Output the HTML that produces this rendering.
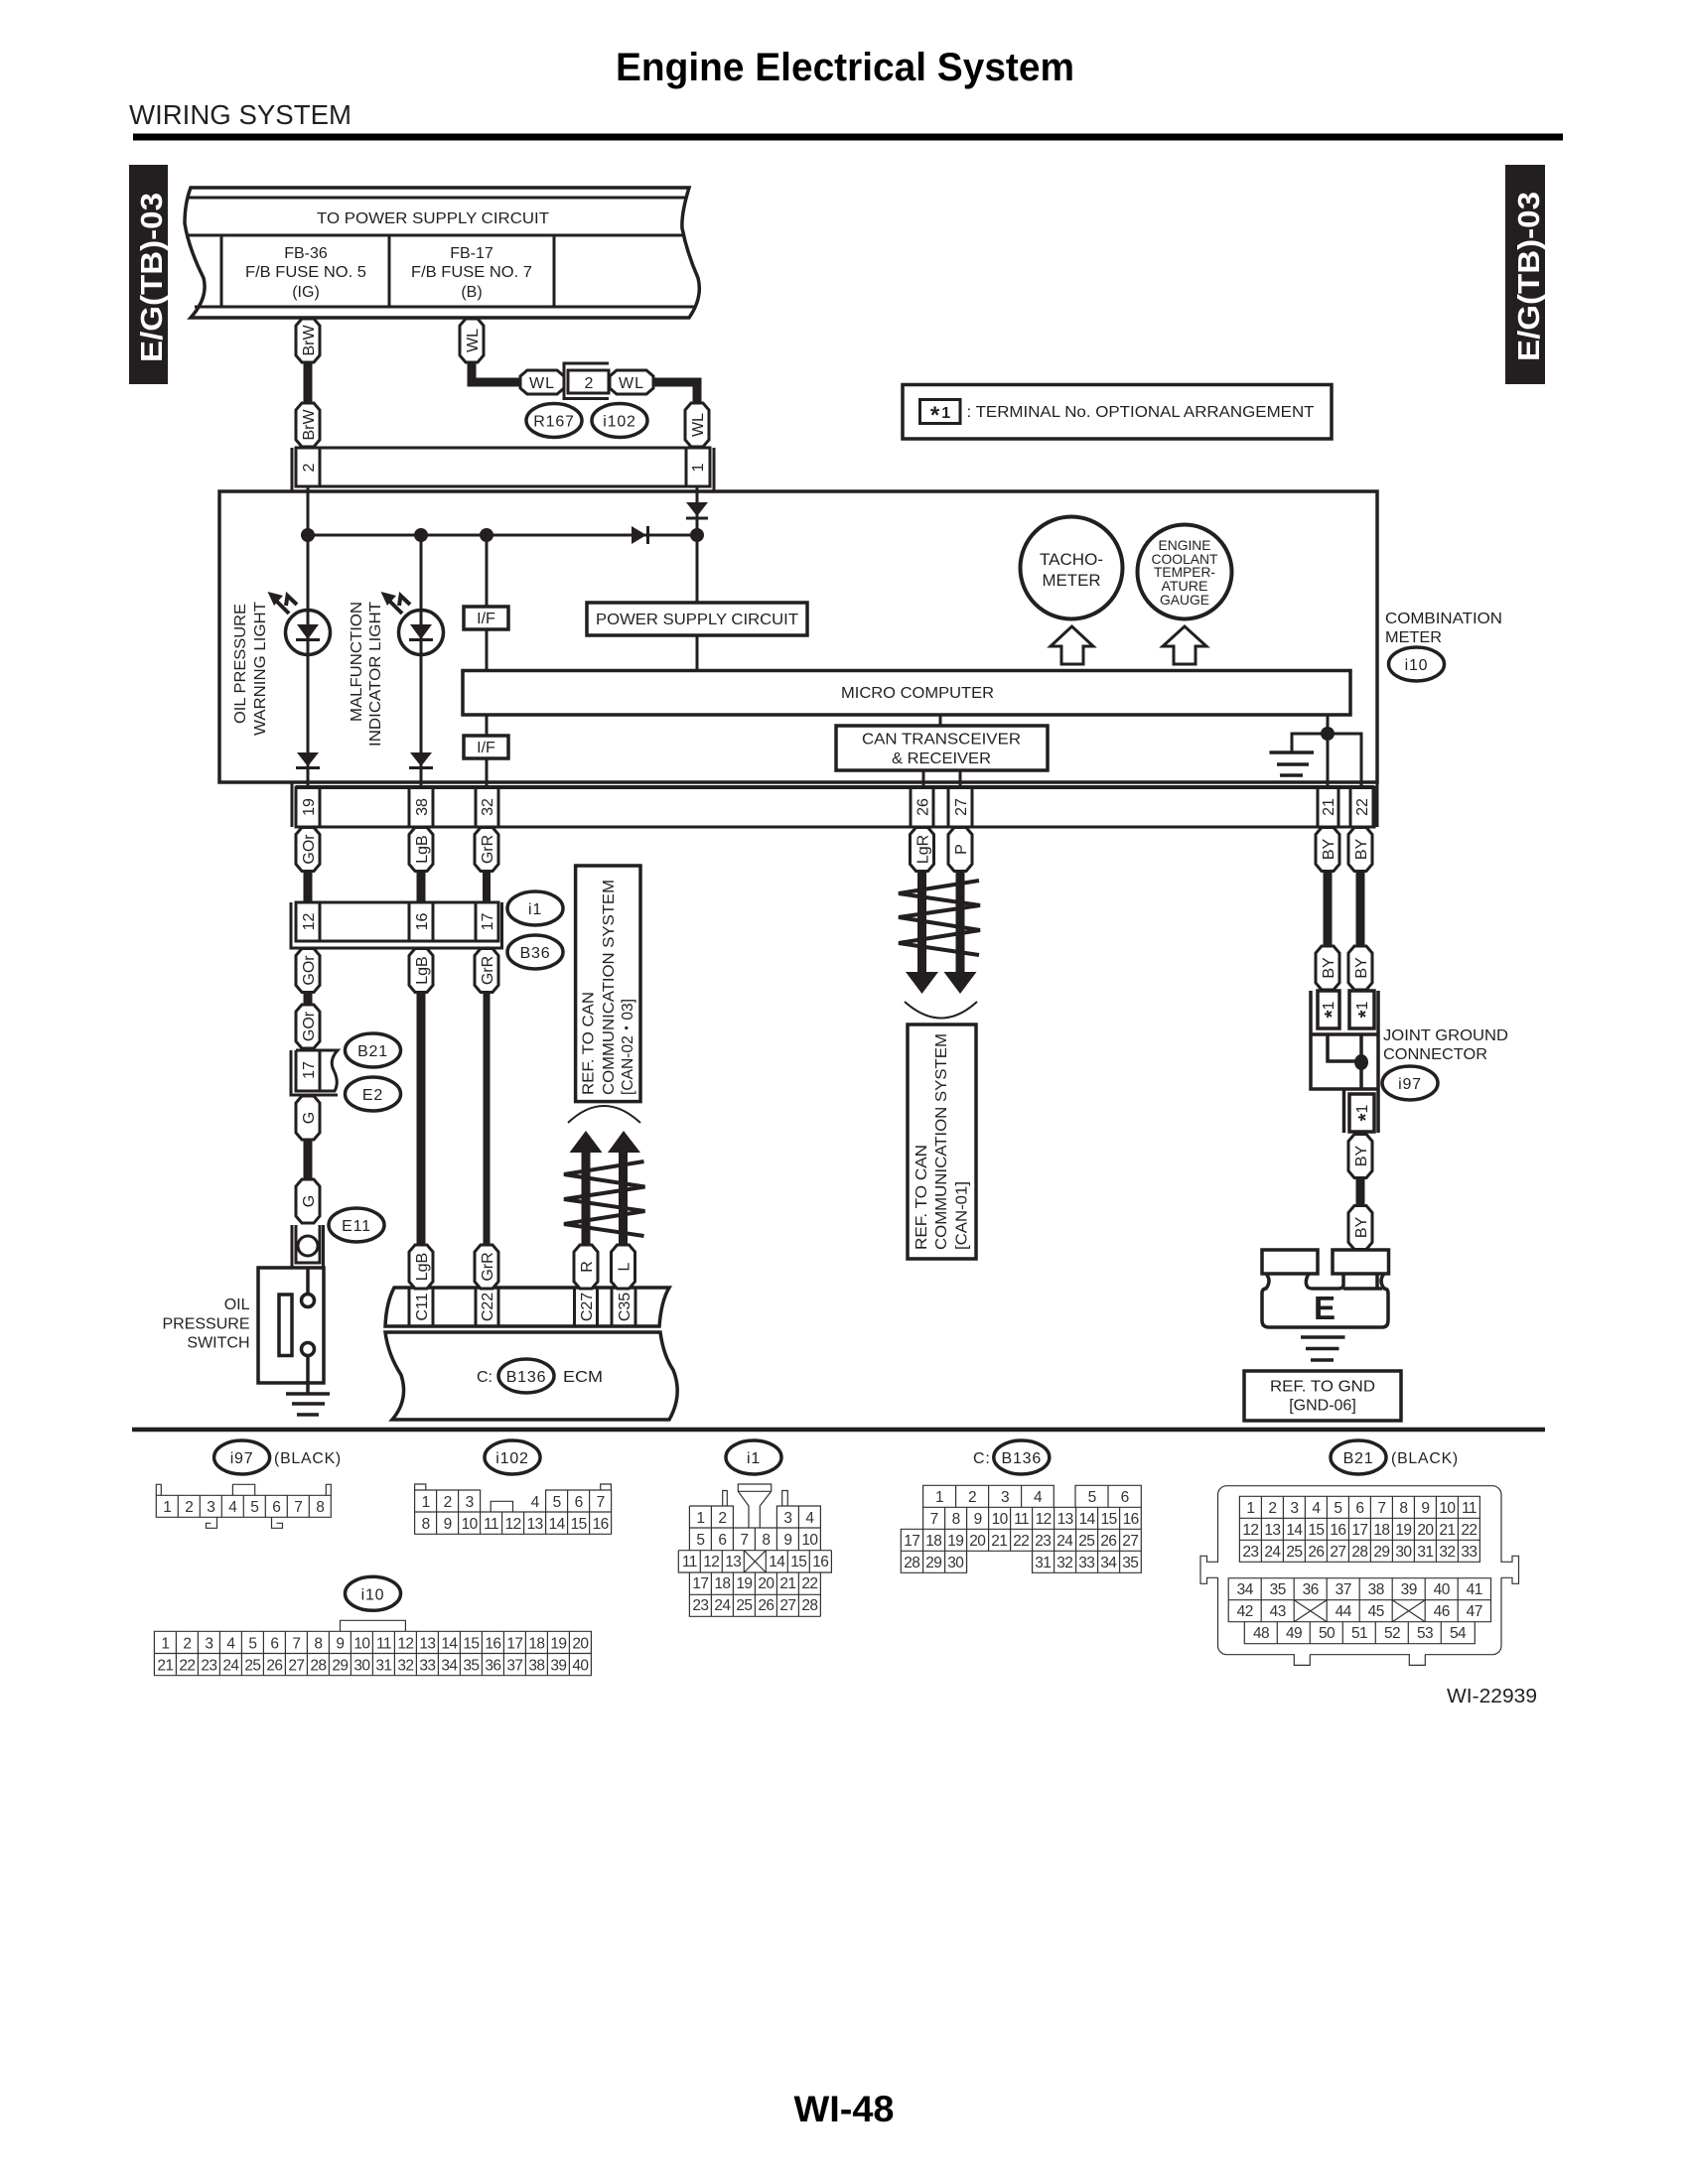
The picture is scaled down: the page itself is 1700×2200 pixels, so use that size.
<!DOCTYPE html>
<html><head><meta charset="utf-8"><title>Engine Electrical System</title>
<style>
html,body{margin:0;padding:0;background:#fff}
svg{display:block}
text{font-family:"Liberation Sans",sans-serif;fill:#231f20}
.m{text-anchor:middle}
.s{text-anchor:start}
.g text{text-anchor:middle;font-size:15.5px;letter-spacing:-.6px;fill:#333}
.r text{text-anchor:middle;font-size:16px}
.l{font-size:16px}
</style></head><body>
<svg width="1700" height="2200" viewBox="0 0 1700 2200" xmlns="http://www.w3.org/2000/svg">
<defs>
<polygon id="p" points="-6,-22 6,-22 12,-15 12,15 6,22 -6,22 -12,15 -12,-15" fill="#fff" stroke="#231f20" stroke-width="3"/>
<ellipse id="e" rx="28" ry="17" fill="#fff" stroke="#231f20" stroke-width="3.5"/>
</defs>
<rect width="1700" height="2200" fill="#fff"/>

<!-- header -->
<text x="620" y="81" font-size="40" font-weight="bold" textLength="462" lengthAdjust="spacingAndGlyphs" style="fill:#000">Engine Electrical System</text>
<text x="130" y="125" font-size="28" textLength="224" lengthAdjust="spacingAndGlyphs">WIRING SYSTEM</text>
<rect x="134" y="134.500" width="1440" height="7" fill="#000"/>
<rect x="130" y="166" width="39" height="221" fill="#231f20"/>
<rect x="1516" y="166" width="40" height="221" fill="#231f20"/>
<text transform="translate(163,365) rotate(-90)" font-size="31" font-weight="bold" textLength="171" lengthAdjust="spacingAndGlyphs" style="fill:#fff">E/G(TB)-03</text>
<text transform="translate(1550,364) rotate(-90)" font-size="31" font-weight="bold" textLength="171" lengthAdjust="spacingAndGlyphs" style="fill:#fff">E/G(TB)-03</text>

<g fill="none" stroke="#231f20" stroke-width="3">
<!-- fuse box -->
<path stroke-width="3.5" d="M192 189H694Q686 215 687 230Q692 255 703 280Q708 300 694 320H192Q210 300 205 280Q190 250 186 225Q186 205 192 189Z"/>
<path d="M189 199H691M187 237H689M196 309H700M223 237V310M392 237V309M558 237V309"/>
<!-- meter -->
<rect x="221" y="495" width="1166" height="293" stroke-width="3.5" fill="#fff"/>
<path d="M310 450V793M424 539V793M490 539V611M490 634V675M490 720V741M490 764V793M702 490V607M702 640V675M310 539H702M947 720V731M930 776V793M967 776V793M1337 720V793M1301 758V739H1371V793"/>
<rect x="591" y="607" width="222" height="33" stroke-width="3.500" fill="#fff"/>
<rect x="466" y="675.500" width="894" height="44.500" stroke-width="3.500" fill="#fff"/>
<rect x="842" y="731" width="213" height="45" stroke-width="3.500" fill="#fff"/>
<rect x="467" y="611" width="45" height="23" fill="#fff" stroke-width="3.500"/>
<rect x="467" y="741" width="45" height="23" fill="#fff" stroke-width="3.500"/>
<circle cx="310" cy="637" r="22.500" stroke-width="3.500"/>
<circle cx="424" cy="637" r="22.500" stroke-width="3.500"/>
<path d="M298 644.500H322M412 644.500H436M298 773.500H322M412 773.500H436M691 522H713M652.500 530V548"/>
<path d="M278 605L291 618M288 610L289.500 600L299 609" stroke-width="4"/>
<path d="M392 605L405 618M402 610L403.500 600L413 609" stroke-width="4"/>
<circle cx="1079" cy="572" r="51.500" stroke-width="4" fill="#fff"/>
<circle cx="1193" cy="576" r="47.500" stroke-width="4" fill="#fff"/>
<polygon points="1079.500,631 1101,651 1091,651 1091,669 1069,669 1069,651 1058,651" fill="#fff"/>
<polygon points="1193,631 1215,651 1204,651 1204,669 1182,669 1182,651 1171,651" fill="#fff"/>
<path d="M1278.500 758H1323M1286 770H1318M1289 781H1312" stroke-width="3.500"/>
<!-- legend -->
<rect x="909" y="387.500" width="432" height="54.500" stroke-width="3.500"/>
<rect x="926.500" y="402.500" width="40.500" height="24" stroke-width="3"/>
<!-- top wires -->
<path d="M310 365V406M475 365V385H526M659 385H702V406" stroke-width="9"/>
<!-- top connector -->
<rect x="298" y="451" width="417" height="39" fill="#fff"/>
<path d="M322 451V490M691 451V490M294 451V494M719 451V494"/>
<rect x="572" y="373" width="41" height="23" fill="#fff"/>
<path d="M613 366H568V401.500H613" />
<!-- lower meter connector -->
<rect x="298" y="793" width="1086" height="40" fill="#fff"/>
<path d="M294 789V833M322 793V833M412 793V833M436 793V833M479 793V833M502 793V833M917 793V833M940 793V833M955 793V833M979 793V833M1327 793V833M1348 793V833M1360 793V833M1383 793V833M1387 789V833" />
<path d="M298 793H1384" stroke-width="4"/>
<!-- wires below -->
<path d="M310 878V909M424 878V909" stroke-width="9"/>
<path d="M490 878V909" stroke-width="8"/>
<path d="M928.500 878V980M967 878V980M1337 878V955M1370 878V955M1370 1187V1215" stroke-width="9"/>
<path d="M310 999V1013M310 1148V1189M424 999V1255" stroke-width="9"/>
<path d="M490 999V1255" stroke-width="7"/>
<path d="M590 1155V1255M627.500 1155V1255" stroke-width="9"/>
<!-- i1 connector -->
<rect x="298" y="909" width="204" height="39" fill="#fff"/>
<path d="M293 909V955H505.500V909M322 909V948M412 909V948M436 909V948M479 909V948"/>
<!-- 17 connector -->
<path d="M293 1058V1103H340M298 1058H340Q331 1068 336 1078Q342 1090 337 1099H298V1058M322 1058V1099" fill="#fff"/>
<!-- switch -->
<path d="M294 1234V1276M325.500 1234V1276M298 1234V1272H322V1234"/>
<circle cx="310" cy="1255" r="10"/>
<rect x="260" y="1277" width="66" height="116" stroke-width="3.500" fill="#fff"/>
<rect x="281" y="1304" width="13" height="61.500" stroke-width="3.500"/>
<path d="M310 1277V1303M310 1365V1404M288 1404H332M294 1414H327M299 1425H321" stroke-width="3.500"/>
<circle cx="310" cy="1310" r="6.500" fill="#fff" stroke-width="3.500"/>
<circle cx="310" cy="1359" r="6.500" fill="#fff" stroke-width="3.500"/>
<!-- ECM -->
<path d="M397 1297H674Q666 1310 664 1336H388Q389 1312 397 1297Z" stroke-width="3.500" fill="#fff"/>
<path d="M412 1297V1336M436 1297V1336M479 1297V1336M502 1297V1336M578.500 1297V1336M601.500 1297V1336M616 1297V1336M640 1297V1336"/>
<path d="M388 1342H665Q668 1365 678 1380Q688 1405 674 1430H395Q412 1410 404 1385Q391 1365 388 1342Z" stroke-width="3.500" fill="#fff"/>
<!-- CAN up -->
<path d="M648.500 1170L568 1183L649.500 1195.500L568 1208L649.500 1220L568 1233L648.500 1245" stroke-width="4"/>
<path d="M572 1131Q608 1097 645 1131" stroke-width="2"/>
<rect x="579.600" y="872" width="65.400" height="237.600" stroke-width="3.500"/>
<!-- CAN down -->
<path d="M986 887L905 900L987 912L905 924L987 937L905 950L986 962" stroke-width="4"/>
<path d="M911 1009Q948 1042 984 1009" stroke-width="2"/>
<rect x="914" y="1032" width="69" height="236" stroke-width="3.500"/>
<!-- joint -->
<g stroke-width="3.500">
<rect x="1327" y="998" width="22" height="38"/>
<rect x="1359" y="998" width="25" height="38"/>
<path d="M1320 998V1042M1388 998V1141M1320 1042H1387M1320 1042V1097H1387M1337 1042V1069H1370M1371 1042V1097M1353.500 1097V1141"/>
<rect x="1359" y="1102" width="25" height="38"/>
</g>
<!-- E ground -->
<rect x="1271" y="1259" width="56" height="24" stroke-width="3.500"/>
<rect x="1342" y="1259" width="56.500" height="24" stroke-width="3.500"/>
<path stroke-width="3.500" d="M1275 1283Q1281 1290 1275 1298Q1271 1298 1271 1303V1330Q1271 1337 1278 1337H1392Q1398 1337 1398 1330V1303Q1398 1298 1394 1298Q1388 1290 1394 1283M1318 1283Q1314 1290 1316 1295Q1317 1298 1322 1298H1348Q1353 1298 1353 1294V1283M1353 1298H1392M1387 1283V1298"/>
<path d="M1310 1347H1354.500M1315 1358.500H1348.500M1320 1370H1343" stroke-width="3.500"/>
<rect x="1253" y="1381" width="158" height="50" stroke-width="3.500"/>
<!-- divider -->
<path d="M133 1440H1556" stroke-width="4.500"/>
</g>

<!-- solid glyph shapes -->
<g fill="#231f20">
<circle cx="310" cy="539" r="7"/><circle cx="424" cy="539" r="7"/><circle cx="490" cy="539" r="7"/><circle cx="702" cy="539" r="7"/>
<circle cx="1337" cy="739" r="7"/>
<ellipse cx="1371" cy="1070" rx="7" ry="8"/>
<polygon points="636,530 651,539 636,548"/>
<polygon points="691,506 713,506 702,520"/>
<polygon points="299,629 321,629 310,644"/><polygon points="413,629 435,629 424,644"/>
<polygon points="299,758 321,758 310,772"/><polygon points="413,758 435,758 424,772"/>
<polygon points="269.500,596 285,600 276,610"/><polygon points="383.500,596 399,600 390,610"/>
<polygon points="590,1139 606.500,1161 573.500,1161"/><polygon points="628,1139 645,1161 612,1161"/>
<polygon points="912,979 945,979 928.500,1001"/><polygon points="950.500,979 983.500,979 967,1001"/>
</g>

<!-- pills -->
<g>
<use href="#p" transform="translate(310,343)"/><use href="#p" transform="translate(310,428)"/>
<use href="#p" transform="translate(475,343)"/><use href="#p" transform="translate(702,428)"/>
<use href="#p" transform="translate(546,385) rotate(90)"/><use href="#p" transform="translate(636,385) rotate(90)"/>
<use href="#p" transform="translate(310,855.500)"/><use href="#p" transform="translate(424,855.500)"/><use href="#p" transform="translate(490,855.500)"/>
<use href="#p" transform="translate(928.500,855.500)"/><use href="#p" transform="translate(967,855.500)"/>
<use href="#p" transform="translate(1337,855.500)"/><use href="#p" transform="translate(1370,855.500)"/>
<use href="#p" transform="translate(310,977.500)"/><use href="#p" transform="translate(424,977.500)"/><use href="#p" transform="translate(490,977.500)"/>
<use href="#p" transform="translate(310,1034)"/><use href="#p" transform="translate(310,1126)"/><use href="#p" transform="translate(310,1210)"/>
<use href="#p" transform="translate(424,1276)"/><use href="#p" transform="translate(490,1276)"/>
<use href="#p" transform="translate(590,1276)"/><use href="#p" transform="translate(627.500,1276)"/>
<use href="#p" transform="translate(1337,975)"/><use href="#p" transform="translate(1370,975)"/>
<use href="#p" transform="translate(1370,1164.500)"/><use href="#p" transform="translate(1370,1236.500)"/>
</g>

<!-- rotated labels in pills and cells -->
<g class="r">
<text transform="translate(316,343) rotate(-90)">BrW</text><text transform="translate(316,428) rotate(-90)">BrW</text>
<text transform="translate(481,343) rotate(-90)">WL</text><text transform="translate(708,428) rotate(-90)">WL</text>
<text transform="translate(316,471) rotate(-90)">2</text><text transform="translate(708,471) rotate(-90)">1</text>
<text transform="translate(316,813) rotate(-90)">19</text><text transform="translate(430,813) rotate(-90)">38</text><text transform="translate(496,813) rotate(-90)">32</text>
<text transform="translate(934.500,813) rotate(-90)">26</text><text transform="translate(973,813) rotate(-90)">27</text>
<text transform="translate(1343,813) rotate(-90)">21</text><text transform="translate(1377,813) rotate(-90)">22</text>
<text transform="translate(316,855.500) rotate(-90)">GOr</text><text transform="translate(430,855.500) rotate(-90)">LgB</text><text transform="translate(496,855.500) rotate(-90)">GrR</text>
<text transform="translate(934.500,855.500) rotate(-90)">LgR</text><text transform="translate(973,855.500) rotate(-90)">P</text>
<text transform="translate(1343,855.500) rotate(-90)">BY</text><text transform="translate(1376,855.500) rotate(-90)">BY</text>
<text transform="translate(316,928.500) rotate(-90)">12</text><text transform="translate(430,928.500) rotate(-90)">16</text><text transform="translate(496,928.500) rotate(-90)">17</text>
<text transform="translate(316,977.500) rotate(-90)">GOr</text><text transform="translate(430,977.500) rotate(-90)">LgB</text><text transform="translate(496,977.500) rotate(-90)">GrR</text>
<text transform="translate(316,1034) rotate(-90)">GOr</text><text transform="translate(316,1078) rotate(-90)">17</text>
<text transform="translate(316,1126) rotate(-90)">G</text><text transform="translate(316,1210) rotate(-90)">G</text>
<text transform="translate(430,1276) rotate(-90)">LgB</text><text transform="translate(496,1276) rotate(-90)">GrR</text>
<text transform="translate(596,1276) rotate(-90)">R</text><text transform="translate(633.500,1276) rotate(-90)">L</text>
<text transform="translate(430,1316.500) rotate(-90)">C11</text><text transform="translate(496,1316.500) rotate(-90)">C22</text>
<text transform="translate(596,1316.500) rotate(-90)">C27</text><text transform="translate(634,1316.500) rotate(-90)">C35</text>
<text transform="translate(1343,975) rotate(-90)">BY</text><text transform="translate(1376,975) rotate(-90)">BY</text>
<text transform="translate(1343,1017) rotate(-90)"><tspan font-size="20" font-weight="bold" dy="5">*</tspan><tspan dy="-5">1</tspan></text>
<text transform="translate(1377,1017) rotate(-90)"><tspan font-size="20" font-weight="bold" dy="5">*</tspan><tspan dy="-5">1</tspan></text>
<text transform="translate(1377,1121) rotate(-90)"><tspan font-size="20" font-weight="bold" dy="5">*</tspan><tspan dy="-5">1</tspan></text>
<text transform="translate(1376,1164.500) rotate(-90)">BY</text><text transform="translate(1376,1236.500) rotate(-90)">BY</text>
</g>

<!-- horizontal small labels -->
<g class="l">
<text class="m" x="546" y="391" letter-spacing="1">WL</text><text class="m" x="636" y="391" letter-spacing="1">WL</text>
<text class="m" x="593" y="391">2</text>
<text x="436" y="225" class="m" textLength="234" lengthAdjust="spacingAndGlyphs">TO POWER SUPPLY CIRCUIT</text>
<text x="308" y="260" class="m">FB-36</text>
<text x="308" y="279" class="m" textLength="122" lengthAdjust="spacingAndGlyphs">F/B FUSE NO. 5</text>
<text x="308" y="299" class="m">(IG)</text>
<text x="475" y="260" class="m">FB-17</text>
<text x="475" y="279" class="m" textLength="122" lengthAdjust="spacingAndGlyphs">F/B FUSE NO. 7</text>
<text x="475" y="299" class="m">(B)</text>
<text x="702" y="629" class="m" textLength="204" lengthAdjust="spacingAndGlyphs">POWER SUPPLY CIRCUIT</text>
<text x="489.500" y="628" class="m">I/F</text>
<text x="489.500" y="758" class="m">I/F</text>
<text x="924" y="703" class="m" textLength="154" lengthAdjust="spacingAndGlyphs">MICRO COMPUTER</text>
<text x="948" y="749.500" class="m" textLength="160" lengthAdjust="spacingAndGlyphs">CAN TRANSCEIVER</text>
<text x="948" y="769" class="m" textLength="100" lengthAdjust="spacingAndGlyphs">&amp; RECEIVER</text>
<text x="973.500" y="420" textLength="350" lengthAdjust="spacingAndGlyphs">: TERMINAL No. OPTIONAL ARRANGEMENT</text>
<text x="947" y="421" class="m"><tspan font-size="24" font-weight="bold" dy="5">*</tspan><tspan font-weight="bold" dy="-5" dx="2">1</tspan></text>
<text x="1079" y="569" class="m" textLength="64" lengthAdjust="spacingAndGlyphs" font-size="17">TACHO-</text>
<text x="1079" y="590" class="m" textLength="59" lengthAdjust="spacingAndGlyphs" font-size="17">METER</text>
<text x="1193" y="554" class="m" font-size="14" textLength="53" lengthAdjust="spacingAndGlyphs">ENGINE</text>
<text x="1193" y="568" class="m" font-size="14" textLength="67" lengthAdjust="spacingAndGlyphs">COOLANT</text>
<text x="1193" y="581" class="m" font-size="14" textLength="62" lengthAdjust="spacingAndGlyphs">TEMPER-</text>
<text x="1193" y="595" class="m" font-size="14" textLength="47" lengthAdjust="spacingAndGlyphs">ATURE</text>
<text x="1193" y="609" class="m" font-size="14" textLength="50" lengthAdjust="spacingAndGlyphs">GAUGE</text>
<text x="1395" y="628" textLength="118" lengthAdjust="spacingAndGlyphs">COMBINATION</text>
<text x="1395" y="647" textLength="57" lengthAdjust="spacingAndGlyphs">METER</text>
<text x="1393" y="1048" textLength="126" lengthAdjust="spacingAndGlyphs">JOINT GROUND</text>
<text x="1393" y="1067" textLength="105" lengthAdjust="spacingAndGlyphs">CONNECTOR</text>
<text x="251.500" y="1319" text-anchor="end">OIL</text>
<text x="251.500" y="1338.500" text-anchor="end">PRESSURE</text>
<text x="251.500" y="1357.500" text-anchor="end">SWITCH</text>
<text x="1332" y="1401.500" class="m" textLength="106" lengthAdjust="spacingAndGlyphs">REF. TO GND</text>
<text x="1332" y="1420.500" class="m">[GND-06]</text>
<text x="480" y="1392" font-size="16">C:</text>
<text x="567" y="1392" textLength="40" lengthAdjust="spacingAndGlyphs">ECM</text>
<text transform="translate(247,729) rotate(-90)" textLength="121" lengthAdjust="spacingAndGlyphs">OIL PRESSURE</text>
<text transform="translate(267,741) rotate(-90)" textLength="135" lengthAdjust="spacingAndGlyphs">WARNING LIGHT</text>
<text transform="translate(364,727) rotate(-90)" textLength="121" lengthAdjust="spacingAndGlyphs">MALFUNCTION</text>
<text transform="translate(383,752) rotate(-90)" textLength="146" lengthAdjust="spacingAndGlyphs">INDICATOR LIGHT</text>
<text transform="translate(597.500,1103) rotate(-90)" textLength="104" lengthAdjust="spacingAndGlyphs">REF. TO CAN</text>
<text transform="translate(618,1103) rotate(-90)" textLength="217" lengthAdjust="spacingAndGlyphs">COMMUNICATION SYSTEM</text>
<text transform="translate(637,1103) rotate(-90)" textLength="97" lengthAdjust="spacingAndGlyphs">[CAN-02・03]</text>
<text transform="translate(933,1259) rotate(-90)" textLength="106" lengthAdjust="spacingAndGlyphs">REF. TO CAN</text>
<text transform="translate(953,1259) rotate(-90)" textLength="218" lengthAdjust="spacingAndGlyphs">COMMUNICATION SYSTEM</text>
<text transform="translate(973.500,1259) rotate(-90)" textLength="69" lengthAdjust="spacingAndGlyphs">[CAN-01]</text>
</g>
<text x="1334" y="1329" class="m" font-size="33" font-weight="bold">E</text>

<!-- ellipses -->
<use href="#e" transform="translate(558,423.500)"/><use href="#e" transform="translate(624,423.500)"/>
<use href="#e" transform="translate(1426.500,669)"/>
<use href="#e" transform="translate(539,915)"/><use href="#e" transform="translate(539,959)"/>
<use href="#e" transform="translate(375.500,1058)"/><use href="#e" transform="translate(375.500,1102)"/>
<use href="#e" transform="translate(359,1234)"/>
<use href="#e" transform="translate(1420,1091)"/>
<use href="#e" transform="translate(530,1386)"/>
<use href="#e" transform="translate(243.600,1468)"/><use href="#e" transform="translate(516,1468)"/><use href="#e" transform="translate(759,1468)"/>
<use href="#e" transform="translate(1028.800,1468)"/><use href="#e" transform="translate(1368,1468)"/><use href="#e" transform="translate(375.500,1605.300)"/>
<g class="l" letter-spacing=".8">
<text class="m" x="558" y="429.500">R167</text><text class="m" x="624" y="429.500">i102</text><text class="m" x="1426.500" y="675">i10</text>
<text class="m" x="539" y="921">i1</text><text class="m" x="539" y="965">B36</text>
<text class="m" x="375.500" y="1064">B21</text><text class="m" x="375.500" y="1108">E2</text>
<text class="m" x="359" y="1240">E11</text><text class="m" x="1420" y="1097">i97</text>
<text class="m" x="530" y="1392">B136</text>
<text class="m" x="243.600" y="1474">i97</text><text class="m" x="516" y="1474">i102</text><text class="m" x="759" y="1474">i1</text>
<text class="m" x="1028.800" y="1474">B136</text><text class="m" x="1368" y="1474">B21</text><text class="m" x="375.500" y="1611.300">i10</text>
<text class="s" x="276" y="1474" textLength="68" lengthAdjust="spacingAndGlyphs">(BLACK)</text><text class="s" x="1401" y="1474" textLength="68" lengthAdjust="spacingAndGlyphs">(BLACK)</text><text class="s" x="980" y="1474">C:</text>
</g>

<!-- connector faces -->
<g fill="none" stroke="#333" stroke-width="1.2">
<path d="M157.300 1506.300h176v22h-176zM179.300 1506.300v22m22-22v22m22-22v22m22-22v22m22-22v22m22-22v22m22-22v22M157.300 1506.300v-11h5v11M328.300 1506.300v-11h5v11M234.400 1506.300v-11h22.300v11M218.500 1528.300v11h-11v-5h5M273.500 1528.300v11h11v-5h-6"/>
<path d="M417.600 1501h66v22h66v-22h66v44.300h-198zM417.600 1523h198M439.600 1501v44.300m22-44.300v44.300m22-44.300v44.300m22-22v22m22-22v22m22-44.300v44.300m22-44.300v44.300m22-44.300v44.300M417.600 1501v-6h11.200v6M604.700 1501v-6h10.700v6M494.200 1523v-10.700h22.300v10.700"/>
<path d="M694.400 1517h44v22h44v-22h44v44.700M694.400 1517v44.700M716.400 1517v44.700M738.400 1517v44.700M760.400 1539v22.700M782.400 1517v44.700M804.400 1517v44.700M694.400 1539h132M683.300 1561.700h154.100M683.300 1561.700v22.300h154.100v-22.300M705.300 1561.700v22.300M727.300 1561.700v22.300M749.300 1561.700v22.300M771.300 1561.700v22.300M793.300 1561.700v22.300M815.300 1561.700v22.300M749.300 1561.700L771.300 1584M771.300 1561.700L749.300 1584M694.400 1584v44.300h132M826.400 1584v44.300M694.400 1606.300h132M716.400 1584v44.300M738.400 1584v44.300M760.400 1584v44.300M782.400 1584v44.300M804.400 1584v44.300M727.700 1517v-15.500h4.600v15.500M787.700 1517v-15.500h5.600v15.500M743.300 1495h33.400v7.300h-33.400zM743.300 1502.300L754 1517V1539M776.700 1502.300L765.300 1517V1539"/>
<path d="M155.400 1643.300h440v44.400h-440zM155.400 1665.500h440M177.400 1643.300v44.400m22-44.400v44.400m22-44.400v44.400m22-44.400v44.400m22-44.400v44.400m22-44.400v44.400m22-44.400v44.400m22-44.400v44.400m22-44.400v44.400m22-44.400v44.400m22-44.400v44.400m22-44.400v44.400m22-44.400v44.400m22-44.400v44.400m22-44.400v44.400m22-44.400v44.400m22-44.400v44.400m22-44.400v44.400m22-44.400v44.400M342.500 1643.300v-11h65.900v11"/>
<path d="M929.600 1518.300v-22h131.700v22M962.600 1496.300v22M995.600 1496.300v22M1028.600 1496.300v22M1083 1518.300v-22h66.300v88H1039.500v-22h-66v22h-66.200v-44h22.300v-22zM1116 1496.300v22M929.600 1518.300h219.700M907.300 1540.300h242M907.300 1562.300h242M951.600 1518.300v44M973.600 1518.300v66M995.600 1518.300v44M1017.600 1518.300v44M1039.600 1518.300v66M1061.600 1518.300v66M1083.600 1518.300v66M1105.600 1518.300v66M1127.600 1518.300v66M929.600 1540.300v44M951.600 1562.300v22"/>
<rect x="1226.500" y="1496.700" width="285.500" height="170" rx="9"/>
<path stroke="#fff" stroke-width="2" d="M1226.500 1574V1589M1512 1574V1589M1304 1666.700H1319M1420 1666.700H1435"/>
<path d="M1226.500 1573.300h-11v-6h-6.500v28h6.500v-6h11M1512 1573.300h11v-6h6.500v28h-6.500v-6h-11M1303.300 1666.700v10.700h16v-10.700M1419.300 1666.700v10.700h16v-10.700"/>
<path d="M1248.400 1507.300h242v66h-242zM1248.400 1529.300h242M1248.400 1551.300h242M1270.400 1507.300v66m22-66v66m22-66v66m22-66v66m22-66v66m22-66v66m22-66v66m22-66v66m22-66v66m22-66v66"/>
<path d="M1237.200 1589.700h264.300v44h-264.300zM1237.200 1611.700h264.300M1270.200 1589.700v44m33-44v44m33-44v44m33-44v44m33-44v44m33-44v44m33-44v44M1303.200 1611.700l33 22m0-22l-33 22M1402.200 1611.700l33 22m0-22l-33 22M1253.300 1633.700v22h232v-22M1286.300 1633.700v22m33-22v22m33-22v22m33-22v22m33-22v22m33-22v22"/>
</g>

<g class="g">
<g transform="translate(0,1523)"><text x="168.300">1</text><text x="190.300">2</text><text x="212.300">3</text><text x="234.300">4</text><text x="256.300">5</text><text x="278.300">6</text><text x="300.300">7</text><text x="322.300">8</text></g>
<g transform="translate(0,1518)"><text x="428.600">1</text><text x="450.600">2</text><text x="472.600">3</text><text x="538.600">4</text><text x="560.600">5</text><text x="582.600">6</text><text x="604.600">7</text></g>
<g transform="translate(0,1540)"><text x="428.600">8</text><text x="450.600">9</text><text x="472.600">10</text><text x="494.600">11</text><text x="516.600">12</text><text x="538.600">13</text><text x="560.600">14</text><text x="582.600">15</text><text x="604.600">16</text></g>
<g transform="translate(0,1534)"><text x="705.400">1</text><text x="727.400">2</text><text x="793.400">3</text><text x="815.400">4</text></g>
<g transform="translate(0,1556)"><text x="705.400">5</text><text x="727.400">6</text><text x="749.400">7</text><text x="771.400">8</text><text x="793.400">9</text><text x="815.400">10</text></g>
<g transform="translate(0,1578)"><text x="694.300">11</text><text x="716.300">12</text><text x="738.300">13</text><text x="782.300">14</text><text x="804.300">15</text><text x="826.300">16</text></g>
<g transform="translate(0,1600)"><text x="705.400">17</text><text x="727.400">18</text><text x="749.400">19</text><text x="771.400">20</text><text x="793.400">21</text><text x="815.400">22</text></g>
<g transform="translate(0,1622)"><text x="705.400">23</text><text x="727.400">24</text><text x="749.400">25</text><text x="771.400">26</text><text x="793.400">27</text><text x="815.400">28</text></g>
<g transform="translate(0,1660.500)"><text x="166.400">1</text><text x="188.400">2</text><text x="210.400">3</text><text x="232.400">4</text><text x="254.400">5</text><text x="276.400">6</text><text x="298.400">7</text><text x="320.400">8</text><text x="342.400">9</text><text x="364.400">10</text><text x="386.400">11</text><text x="408.400">12</text><text x="430.400">13</text><text x="452.400">14</text><text x="474.400">15</text><text x="496.400">16</text><text x="518.400">17</text><text x="540.400">18</text><text x="562.400">19</text><text x="584.400">20</text></g>
<g transform="translate(0,1682.500)"><text x="166.400">21</text><text x="188.400">22</text><text x="210.400">23</text><text x="232.400">24</text><text x="254.400">25</text><text x="276.400">26</text><text x="298.400">27</text><text x="320.400">28</text><text x="342.400">29</text><text x="364.400">30</text><text x="386.400">31</text><text x="408.400">32</text><text x="430.400">33</text><text x="452.400">34</text><text x="474.400">35</text><text x="496.400">36</text><text x="518.400">37</text><text x="540.400">38</text><text x="562.400">39</text><text x="584.400">40</text></g>
<g transform="translate(0,1513)"><text x="946">1</text><text x="979">2</text><text x="1012">3</text><text x="1045">4</text><text x="1099.600">5</text><text x="1132.600">6</text></g>
<g transform="translate(0,1535)"><text x="940.600">7</text><text x="962.600">8</text><text x="984.600">9</text><text x="1006.600">10</text><text x="1028.600">11</text><text x="1050.600">12</text><text x="1072.600">13</text><text x="1094.600">14</text><text x="1116.600">15</text><text x="1138.600">16</text></g>
<g transform="translate(0,1557)"><text x="918.300">17</text><text x="940.300">18</text><text x="962.300">19</text><text x="984.300">20</text><text x="1006.300">21</text><text x="1028.300">22</text><text x="1050.300">23</text><text x="1072.300">24</text><text x="1094.300">25</text><text x="1116.300">26</text><text x="1138.300">27</text></g>
<g transform="translate(0,1579)"><text x="918.300">28</text><text x="940.300">29</text><text x="962.300">30</text><text x="1050.300">31</text><text x="1072.300">32</text><text x="1094.300">33</text><text x="1116.300">34</text><text x="1138.300">35</text></g>
<g transform="translate(0,1524)"><text x="1259.400">1</text><text x="1281.400">2</text><text x="1303.400">3</text><text x="1325.400">4</text><text x="1347.400">5</text><text x="1369.400">6</text><text x="1391.400">7</text><text x="1413.400">8</text><text x="1435.400">9</text><text x="1457.400">10</text><text x="1479.400">11</text></g>
<g transform="translate(0,1546)"><text x="1259.400">12</text><text x="1281.400">13</text><text x="1303.400">14</text><text x="1325.400">15</text><text x="1347.400">16</text><text x="1369.400">17</text><text x="1391.400">18</text><text x="1413.400">19</text><text x="1435.400">20</text><text x="1457.400">21</text><text x="1479.400">22</text></g>
<g transform="translate(0,1568)"><text x="1259.400">23</text><text x="1281.400">24</text><text x="1303.400">25</text><text x="1325.400">26</text><text x="1347.400">27</text><text x="1369.400">28</text><text x="1391.400">29</text><text x="1413.400">30</text><text x="1435.400">31</text><text x="1457.400">32</text><text x="1479.400">33</text></g>
<g transform="translate(0,1606)"><text x="1253.700">34</text><text x="1286.700">35</text><text x="1319.700">36</text><text x="1352.700">37</text><text x="1385.700">38</text><text x="1418.700">39</text><text x="1451.700">40</text><text x="1484.700">41</text></g>
<g transform="translate(0,1628)"><text x="1253.700">42</text><text x="1286.700">43</text><text x="1352.700">44</text><text x="1385.700">45</text><text x="1451.700">46</text><text x="1484.700">47</text></g>
<g transform="translate(0,1650)"><text x="1270">48</text><text x="1303">49</text><text x="1336">50</text><text x="1369">51</text><text x="1402">52</text><text x="1435">53</text><text x="1468">54</text></g>
</g>

<text x="1457" y="1715" font-size="20" textLength="91" lengthAdjust="spacingAndGlyphs">WI-22939</text>
<text x="850" y="2137" class="m" font-size="37" font-weight="bold" textLength="101" lengthAdjust="spacingAndGlyphs" style="fill:#000">WI-48</text>
</svg>
</body></html>
